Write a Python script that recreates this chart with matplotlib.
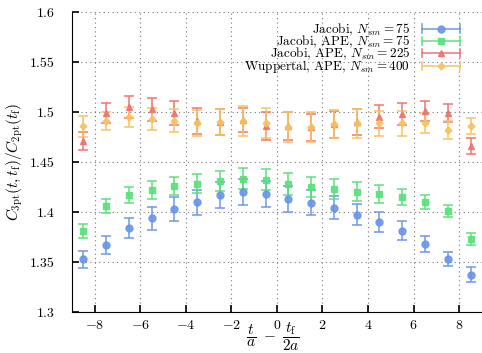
import matplotlib
matplotlib.use("Agg")
import matplotlib.pyplot as plt
from matplotlib.lines import Line2D
from matplotlib.legend_handler import HandlerBase

plt.rcParams["font.family"] = "cmr10"
plt.rcParams["mathtext.fontset"] = "cm"
plt.rcParams["axes.unicode_minus"] = False
plt.rcParams["axes.formatter.use_mathtext"] = True
plt.rcParams["font.size"] = 10

# x positions (t/a - tf/2a)
x = [-8.5, -7.5, -6.5, -5.5, -4.5, -3.5, -2.5, -1.5, -0.5,
     0.5, 1.5, 2.5, 3.5, 4.5, 5.5, 6.5, 7.5, 8.5]

# Jacobi, N_sm = 75
jac75 = [1.3527, 1.3673, 1.3837, 1.3937, 1.4027, 1.4097, 1.417, 1.4203, 1.418,
         1.4133, 1.4093, 1.4043, 1.3973, 1.39, 1.3813, 1.3683, 1.353, 1.3373]
jac75_err = [0.0087, 0.009, 0.010, 0.0117, 0.012, 0.0127, 0.013, 0.013, 0.013,
             0.013, 0.0123, 0.0117, 0.0105, 0.0103, 0.0093, 0.0082, 0.0073, 0.0073]

# Jacobi, APE, N_sm = 75
jacape75 = [1.3813, 1.4063, 1.417, 1.422, 1.4257, 1.4283, 1.4313, 1.4333, 1.4323,
            1.4277, 1.425, 1.4227, 1.4203, 1.4183, 1.415, 1.41, 1.4013, 1.3733]
jacape75_err = [0.007, 0.0072, 0.0078, 0.0087, 0.009, 0.0097, 0.010, 0.0103, 0.0105,
                0.011, 0.0103, 0.010, 0.0097, 0.0088, 0.008, 0.0072, 0.0062, 0.0058]

# Jacobi, APE, N_sm = 225
jacape225 = [1.4713, 1.4987, 1.5047, 1.5027, 1.4993, 1.4913, 1.49, 1.4917, 1.486,
             1.486, 1.4847, 1.4877, 1.4903, 1.4953, 1.498, 1.5013, 1.4993, 1.466]
jacape225_err = [0.0092, 0.010, 0.011, 0.0115, 0.0118, 0.013, 0.0133, 0.012, 0.014,
                 0.0138, 0.0135, 0.0137, 0.0128, 0.0117, 0.0108, 0.0102, 0.009, 0.008]

# Wuppertal, APE, N_sm = 400
wup400 = [1.486, 1.4907, 1.4953, 1.493, 1.4913, 1.4893, 1.49, 1.491, 1.4893,
          1.4853, 1.4853, 1.4877, 1.4887, 1.4887, 1.4887, 1.4893, 1.482, 1.486]
wup400_err = [0.0105, 0.009, 0.010, 0.0107, 0.0115, 0.013, 0.013, 0.0147, 0.015,
              0.015, 0.015, 0.014, 0.0143, 0.0127, 0.0125, 0.010, 0.009, 0.0077]

series = [
    (jac75, jac75_err, r"Jacobi, $N_{sm} = 75$", "#6a95e8", "o", 5),
    (jacape75, jacape75_err, r"Jacobi, APE, $N_{sm} = 75$", "#5ae07c", "s", 5),
    (jacape225, jacape225_err, r"Jacobi, APE, $N_{sm} = 225$", "#f07272", "^", 5),
    (wup400, wup400_err, r"Wuppertal, APE, $N_{sm} = 400$", "#f7c35e", "D", 3.5),
]


# gnuplot-like key: horizontal bar with caps and the marker in the middle
class ErrKeyHandler(HandlerBase):
    def create_artists(self, legend, orig, xdescent, ydescent, width, height, fontsize, trans):
        y = height / 2 - ydescent
        x0, x1 = -xdescent, width - xdescent
        c = orig.get_color()
        kw = dict(color=c, lw=1.2, alpha=0.9, transform=trans)
        bar = Line2D([x0, x1], [y, y], **kw)
        cap0 = Line2D([x0, x0], [y - 3, y + 3], **kw)
        cap1 = Line2D([x1, x1], [y - 3, y + 3], **kw)
        mk = Line2D([(x0 + x1) / 2], [y], marker=orig.get_marker(), ms=orig.get_markersize(),
                    color=c, ls="none", alpha=0.9, transform=trans)
        return [bar, cap0, cap1, mk]


fig = plt.figure(figsize=(4.82, 3.53), dpi=100)
ax = fig.add_axes([0.149, 0.116, 0.851, 0.850])

handles = []
for y, e, lab, c, m, ms in series:
    ax.errorbar(x, y, yerr=e, fmt=m, color=c, ms=ms, capsize=3.5,
                elinewidth=1.2, capthick=1.2, alpha=0.9)
    handles.append(Line2D([], [], color=c, marker=m, ms=ms, label=lab))

ax.set_xlim(-9, 9)
ax.set_ylim(1.3, 1.6)
ax.set_xticks(range(-8, 9, 2))
ax.set_yticks([1.3, 1.35, 1.4, 1.45, 1.5, 1.55, 1.6])
ax.set_yticklabels(["1.3", "1.35", "1.4", "1.45", "1.5", "1.55", "1.6"])
ax.grid(True, linestyle=(0, (1, 3)), color="#777777", linewidth=0.8)
ax.spines["top"].set_visible(False)
ax.spines["right"].set_visible(False)
ax.tick_params(direction="in", length=5, width=1.2, top=False, right=False)
ax.tick_params(axis="x", pad=5)
ax.tick_params(axis="y", pad=12)

ax.set_xlabel(r"$\dfrac{t}{a}\ -\ \dfrac{t_\mathrm{f}}{2a}$", fontsize=11)
ax.xaxis.set_label_coords(0.49, -0.03)
ax.set_ylabel(r"$C_{3\mathrm{pt}}(t,t_\mathrm{f})/C_{2\mathrm{pt}}(t_\mathrm{f})$", fontsize=11, labelpad=4)

ax.legend(handles=handles, handler_map={Line2D: ErrKeyHandler()},
          loc="upper right", bbox_to_anchor=(0.963, 0.99), frameon=False,
          markerfirst=False, fontsize=9.5, labelspacing=-0.3, handlelength=2.9,
          handletextpad=0.9, borderpad=0)

fig.savefig("out.png", dpi=100)
